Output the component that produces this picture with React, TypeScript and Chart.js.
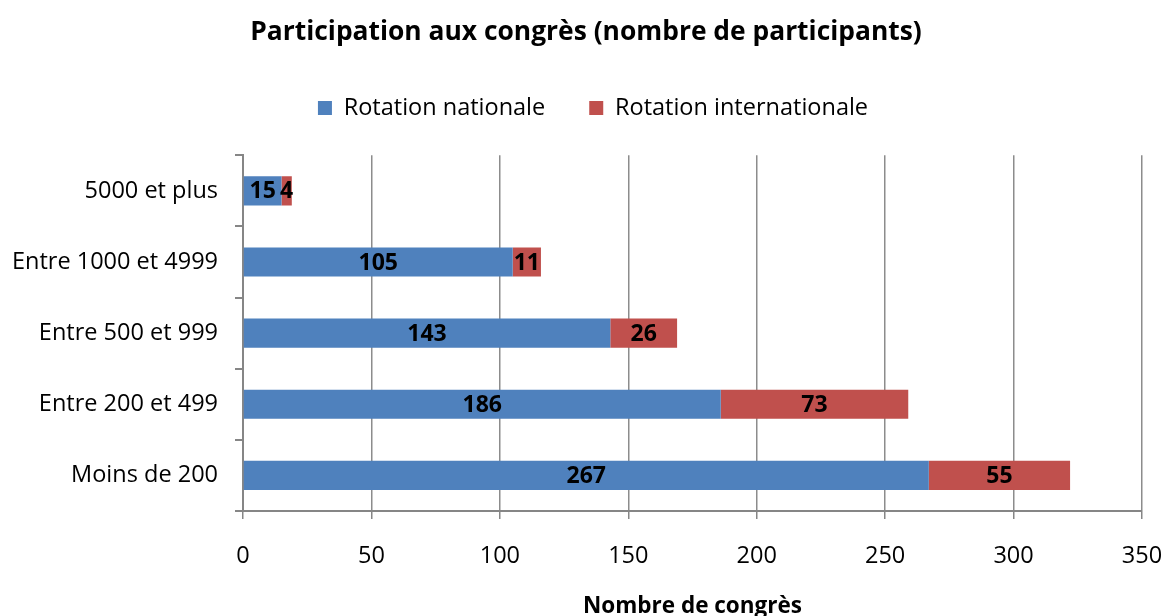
import React, { useEffect, useRef } from "react";
import { Chart, registerables } from "chart.js";

Chart.register(...registerables);

const chartTitle = "Participation aux congrès (nombre de participants)";
const xAxisTitle = "Nombre de congrès";
const categories = [
  "5000 et plus",
  "Entre 1000 et 4999",
  "Entre 500 et 999",
  "Entre 200 et 499",
  "Moins de 200",
];
const seriesNames = ["Rotation nationale", "Rotation internationale"];
const nationalValues = [15, 105, 143, 186, 267];
const internationalValues = [4, 11, 26, 73, 55];
const xMin = 0;
const xMax = 350;
const xStep = 50;

const FONT = "'Open Sans', 'Noto Sans', sans-serif";

const barLabels = {
  id: "barLabels",
  afterDatasetsDraw(chart: any) {
    const ctx = chart.ctx;
    ctx.save();
    ctx.font = `bold 23px ${FONT}`;
    ctx.fillStyle = "#000";
    ctx.textAlign = "center";
    ctx.textBaseline = "middle";
    chart.data.datasets.forEach((ds: any, i: number) => {
      const meta = chart.getDatasetMeta(i);
      meta.data.forEach((el: any, j: number) => {
        const p = el.getCenterPoint();
        ctx.fillText(String(ds.data[j]), p.x, p.y + 1);
      });
    });
    ctx.restore();
  },
};

// shift the title and legend blocks horizontally to match the reference placement
const headerShift = {
  id: "headerShift",
  afterLayout(chart: any) {
    const t = chart.titleBlock;
    if (t) {
      t.left += 15;
      t.right += 15;
    }
    const l = chart.legend;
    if (l) {
      l.left += 22;
      l.right += 22;
    }
  },
};

export default function App() {
  const ref = useRef<HTMLCanvasElement | null>(null);
  useEffect(() => {
    if (!ref.current) return;
    Chart.defaults.font.family = FONT;
    const chart = new Chart(ref.current, {
      type: "bar",
      data: {
        labels: categories,
        datasets: [
          {
            label: seriesNames[0],
            data: nationalValues,
            backgroundColor: "#4F81BD",
            borderWidth: 0,
            categoryPercentage: 1,
            barPercentage: 0.41,
          },
          {
            label: seriesNames[1],
            data: internationalValues,
            backgroundColor: "#C0504D",
            borderWidth: 0,
            categoryPercentage: 1,
            barPercentage: 0.41,
          },
        ],
      },
      options: {
        indexAxis: "y",
        responsive: false,
        animation: false,
        devicePixelRatio: 1,
        layout: { padding: { left: 0, right: 22, top: 0, bottom: 0 } },
        plugins: {
          title: {
            display: true,
            text: chartTitle,
            color: "#000",
            font: { size: 26.4, weight: "bold", family: FONT },
            padding: { top: 16.2, bottom: 4.3 },
          },
          legend: {
            display: true,
            position: "top",
            labels: {
              boxWidth: 14,
              boxHeight: 14,
              padding: 44,
              color: "#000",
              font: { size: 23.5, family: FONT },
            },
          },
          tooltip: { enabled: false },
        },
        scales: {
          x: {
            type: "linear",
            stacked: true,
            position: "bottom",
            min: xMin,
            max: xMax,
            ticks: {
              stepSize: xStep,
              color: "#000",
              font: { size: 23.5, family: FONT },
              padding: 23,
            },
            grid: {
              color: "#8c8c8c",
              lineWidth: 1.5,
              drawTicks: true,
              tickLength: 8,
              tickColor: "#868686",
            },
            border: { display: true, color: "#868686", width: 2 },
            title: {
              display: true,
              text: xAxisTitle,
              color: "#000",
              font: { size: 22.5, weight: "bold", family: FONT, lineHeight: 1 },
              padding: { top: 0, bottom: -2 },
            },
            afterFit: (s: any) => {
              s.height = 105;
              s.paddingLeft = 0;
              s.paddingRight = 0;
            },
          },
          xTop: {
            type: "linear",
            position: "top",
            display: true,
            grid: { display: false },
            border: { display: false },
            ticks: { display: false },
            afterFit: (s: any) => {
              s.height = 25.6;
            },
          },
          y: {
            type: "category",
            stacked: true,
            position: "left",
            offset: true,
            ticks: {
              color: "#000",
              font: { size: 23.5, family: FONT },
              padding: 17,
            },
            grid: {
              offset: true,
              drawOnChartArea: false,
              drawTicks: true,
              tickLength: 8,
              color: "#868686",
              lineWidth: 2,
            },
            border: { display: true, color: "#868686", width: 2 },
            afterFit: (s: any) => {
              s.width = 243;
              s.paddingTop = 0;
              s.paddingBottom = 0;
            },
          },
        },
      },
      plugins: [barLabels, headerShift],
    } as any);
    return () => chart.destroy();
  }, []);
  return (
    <div style={{ position: "fixed", left: 0, top: 0, width: 1164, height: 616, background: "#fff" }}>
      <canvas ref={ref} width={1164} height={616} style={{ display: "block" }} />
    </div>
  );
}
